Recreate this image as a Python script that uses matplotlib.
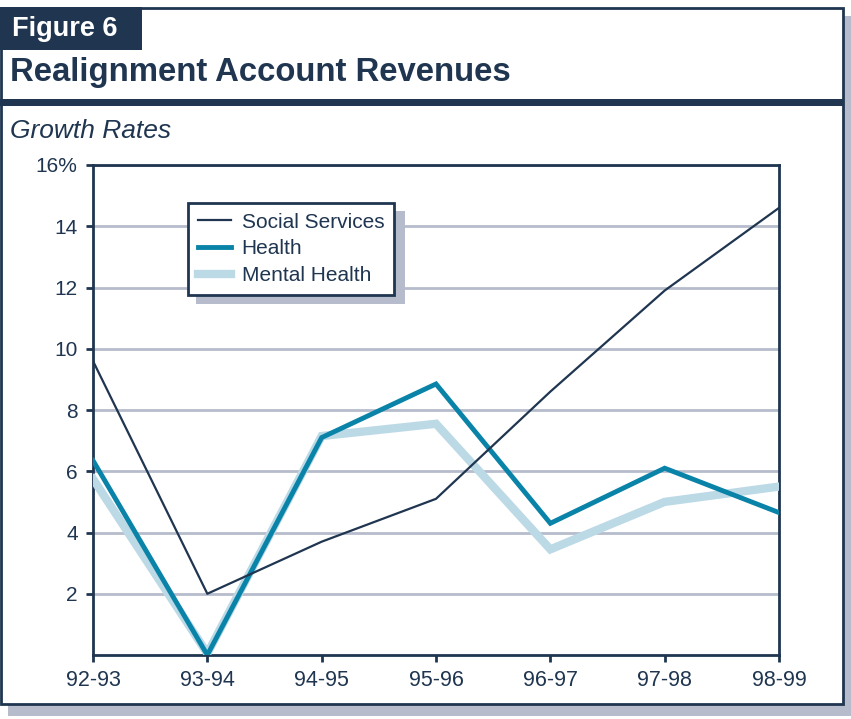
import matplotlib.pyplot as plt
from matplotlib.patches import Rectangle

plt.rcParams['font.family'] = ['Liberation Sans', 'DejaVu Sans']

# Data
years = ['92-93', '93-94', '94-95', '95-96', '96-97', '97-98', '98-99']
social_services = [9.6, 2.0, 3.7, 5.1, 8.6, 11.9, 14.6]
health = [6.35, 0.0, 7.1, 8.85, 4.3, 6.1, 4.65]
mental_health = [5.75, 0.05, 7.15, 7.55, 3.45, 5.0, 5.5]
y_ticks = [2, 4, 6, 8, 10, 12, 14, 16]
y_labels = ['2', '4', '6', '8', '10', '12', '14', '16%']

navy = '#1f3550'
teal = '#0a83a8'
light = '#bcd9e6'
grey = '#b6bccc'

W, H = 851, 719
fig = plt.figure(figsize=(W / 100, H / 100), dpi=100)


def px_rect(x0, y0, x1, y1, **kw):
    # rectangle in pixel coords (y measured from top)
    return Rectangle((x0 / W, 1 - y1 / H), (x1 - x0) / W, (y1 - y0) / H,
                     transform=fig.transFigure, **kw)


# shadow and outer frame
fig.patches.append(px_rect(8, 16, 851, 716, facecolor=grey, edgecolor='none', zorder=0))
fig.patches.append(px_rect(1, 8, 843, 704, facecolor='white', edgecolor=navy,
                           linewidth=2, zorder=1))
# figure tag and title bar
fig.patches.append(px_rect(0, 7, 142, 50, facecolor=navy, edgecolor='none', zorder=2))
fig.patches.append(px_rect(0, 99, 843, 106, facecolor=navy, edgecolor='none', zorder=2))

fig.text(12 / W, 1 - 29 / H, 'Figure 6', color='white', fontsize=19.5,
         fontweight='bold', va='center', ha='left', zorder=3)
fig.text(10 / W, 1 - 73 / H, 'Realignment Account Revenues', color=navy,
         fontsize=23.7, fontweight='bold', va='center', ha='left', zorder=3)
fig.text(10 / W, 1 - 131 / H, 'Growth Rates', color=navy, fontsize=19,
         fontstyle='italic', va='center', ha='left', zorder=3)

# plot area
ax = fig.add_axes([93 / W, 1 - 655 / H, (779 - 93) / W, (655 - 165) / H], zorder=4)
ax.set_facecolor('none')
x = range(len(years))
ax.plot(x, mental_health, color=light, linewidth=6, solid_joinstyle='miter',
        label='Mental Health', zorder=3)
ax.plot(x, health, color=teal, linewidth=3.5, solid_joinstyle='miter',
        label='Health', zorder=4)
ax.plot(x, social_services, color=navy, linewidth=1.6, label='Social Services',
        zorder=5)

ax.set_xlim(0, len(years) - 1)
ax.set_ylim(0, 16)
ax.set_xticks(list(x))
ax.set_xticklabels(years)
ax.set_yticks(y_ticks)
ax.set_yticklabels(y_labels)
ax.yaxis.grid(True, color=grey, linewidth=2)
ax.set_axisbelow(True)
for s in ax.spines.values():
    s.set_color(navy)
    s.set_linewidth(2)
ax.tick_params(colors=navy, width=2, length=5)
ax.tick_params(axis='x', pad=6, labelsize=15.5)
ax.tick_params(axis='y', pad=6, labelsize=15)

# legend with drop shadow
handles, labels = ax.get_legend_handles_labels()
order = [2, 1, 0]
ax.add_artist(px_rect(196, 211, 405, 304, facecolor=grey, edgecolor='none', zorder=9))
leg = ax.legend([handles[i] for i in order], [labels[i] for i in order],
                loc='upper left', bbox_to_anchor=((188 - 93) / 686, (655 - 203) / 490),
                fontsize=15, frameon=True, fancybox=False, borderpad=0.47,
                labelspacing=0.37, handlelength=1.6, handletextpad=0.5,
                borderaxespad=0, framealpha=1, labelcolor=navy)
leg.get_frame().set_edgecolor(navy)
leg.get_frame().set_linewidth(2)
leg.set_zorder(10)

fig.savefig('out.png', dpi=100)
